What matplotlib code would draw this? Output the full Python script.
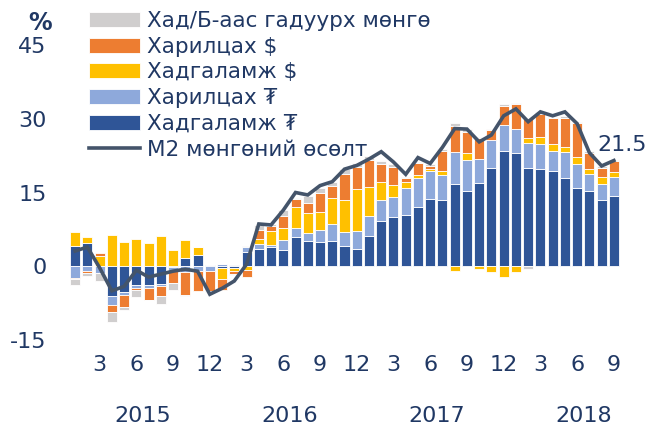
import matplotlib
matplotlib.use("Agg")
import matplotlib.pyplot as plt
import numpy as np

plt.rcParams['font.family'] = ['DejaVu Sans']

months = list(range(1, 13)) * 3 + list(range(1, 10))
years = ['2015', '2016', '2017', '2018']
month_ticks = [3, 6, 9, 12]

# Hadgalamzh ₮ (dark blue)
dep_mnt = [4.1, 4.7, 0.0, -6.1, -5.2, -3.9, -3.9, -3.7, -0.1, 1.6, 2.2, 0.3,
           -0.4, -0.3, 2.9, 3.6, 3.9, 3.3, 5.9, 5.2, 4.9, 5.1, 4.1, 3.6,
           6.2, 9.2, 10.0, 10.45, 12.1, 13.6, 13.4, 16.7, 15.3, 17.0, 19.9, 23.5,
           23.0, 20.0, 19.75, 19.4, 18.05, 15.9, 15.3, 13.5, 14.3]
# Harilcah ₮ (light blue)
cur_mnt = [-2.3, -1.0, -1.3, -1.8, -0.7, -0.55, -0.5, -0.35, -0.9, -1.1, -1.0, -0.9,
           0.4, 0.3, 1.1, 0.9, 0.4, 2.0, 1.85, 1.55, 2.45, 3.5, 2.8, 3.6,
           4.1, 4.35, 4.1, 5.4, 5.8, 5.7, 5.2, 6.6, 6.3, 4.9, 5.8, 5.2,
           4.9, 5.15, 5.1, 4.1, 5.2, 4.9, 3.4, 3.2, 3.9]
# Hadgalamzh $ (yellow)
dep_usd = [2.9, 1.15, 2.1, 6.3, 5.0, 5.6, 4.75, 6.2, 3.4, 3.7, 1.8, 0.0,
           -2.1, -0.75, -0.8, 1.0, 2.85, 2.5, 4.4, 4.1, 3.7, 5.3, 6.6, 8.5,
           5.9, 3.6, 2.4, 1.2, 0.6, 0.5, 0.7, -0.95, 1.5, -0.6, -1.15, -2.1,
           -1.15, 0.9, 1.35, 1.35, 1.1, 1.35, 1.0, 1.55, 0.95]
# Harilcah $ (orange)
cur_usd = [-0.2, -0.3, 0.5, -1.4, -2.3, -0.35, -2.4, -2.1, -2.5, -4.7, -4.1, -4.1,
           -2.25, -0.5, -1.3, 1.8, 1.0, 2.4, 1.5, 2.0, 3.9, 2.45, 5.2, 4.5,
           5.5, 3.7, 3.7, 0.8, 2.4, 0.6, 4.2, 5.3, 4.2, 4.1, 2.0, 3.8,
           5.0, 3.9, 4.75, 5.3, 5.9, 6.9, 3.4, 1.8, 2.25]
# Currency outside banks (gray)
cash = [-1.4, -0.7, -1.6, -2.0, -0.75, -1.55, -0.1, -1.6, -1.3, -0.3, 0.0, -0.3,
        0.0, -0.2, 0.2, 1.0, 0.35, 1.15, 0.3, 1.35, 0.9, 0.75, 1.0, 0.8,
        0.8, 0.55, 0.55, 0.4, 0.4, 0.4, 0.35, 0.55, 0.55, 0.35, 0.3, 0.5,
        0.35, -0.5, 0.4, 0.3, 0.3, 0.2, 0.3, 0.3, 0.2]
# M2 growth
m2 = [3.1, 3.9, -0.3, -5.0, -4.1, -0.8, -2.2, -1.6, -1.0, -0.6, -1.0, -5.7,
      -4.5, -3.0, 0.4, 8.6, 8.4, 11.4, 15.0, 14.5, 16.4, 17.2, 19.75, 20.5,
      21.8, 23.3, 21.2, 18.7, 22.1, 20.9, 24.2, 28.0, 27.9, 25.3, 26.7, 30.6,
      32.0, 29.4, 31.4, 30.6, 31.4, 29.0, 23.1, 20.4, 21.5]

series = [
    (dep_mnt, 'Хадгаламж ₮', '#2F5597'),
    (cur_mnt, 'Харилцах ₮', '#8EA9DB'),
    (dep_usd, 'Хадгаламж $', '#FFC000'),
    (cur_usd, 'Харилцах $', '#ED7D31'),
    (cash, 'Хад/Б-аас гадуурх мөнгө', '#D0CECE'),
]

txt = '#203864'
fig = plt.figure(figsize=(6.51, 4.34), dpi=100)
ax = fig.add_axes([69/651, 1-340/434, (620-69)/651, (340-45)/434])

x = np.arange(len(m2))
pos_base = np.zeros(len(x))
neg_base = np.zeros(len(x))
handles = {}
for vals, label, color in series:
    v = np.array(vals)
    base = np.where(v >= 0, pos_base, neg_base)
    b = ax.bar(x, v, bottom=base, width=0.82, color=color,
               edgecolor='white', linewidth=0.6, label=label)
    handles[label] = b
    pos_base = pos_base + np.where(v >= 0, v, 0)
    neg_base = neg_base + np.where(v < 0, v, 0)

ln, = ax.plot(x, m2, color='#44546A', linewidth=2.6, label='М2 мөнгөний өсөлт',
              solid_joinstyle='miter')

ax.set_xlim(-0.5, len(x) - 0.5)
ax.set_ylim(-15, 45)
ax.set_yticks([-15, 0, 15, 30, 45])
ax.set_yticklabels(['-15', '0', '15', '30', '45'])
for s in ax.spines.values():
    s.set_visible(False)
ax.tick_params(axis='y', length=0, labelsize=16, colors=txt, pad=16)

tick_pos = [i for i, m in enumerate(months) if m in month_ticks]
ax.set_xticks(tick_pos)
ax.set_xticklabels([str(months[i]) for i in tick_pos])
ax.tick_params(axis='x', length=0, labelsize=16, colors=txt, pad=11)

for k, yr in enumerate(years):
    ax.text(k * 12 + 5.5, -30.4, yr, ha='center', va='center', fontsize=16,
            color=txt)

fig.text(622/651, 1-145/434, '21.5', ha='center', va='center', fontsize=16,
         color=txt)

fig.text(40/651, 1-23/434, '%', ha='center', va='center', fontsize=17,
         fontweight='bold', color=txt)

order = ['Хад/Б-аас гадуурх мөнгө', 'Харилцах $', 'Хадгаламж $',
         'Харилцах ₮', 'Хадгаламж ₮']
h = [handles[o] for o in order] + [ln]
l = order + ['М2 мөнгөний өсөлт']
leg = fig.legend(h, l, loc='upper left', bbox_to_anchor=(78/651, 1.0),
                 frameon=False, fontsize=15.5, handlelength=2.4, handleheight=0.7,
                 labelspacing=0.27, handletextpad=0.3, borderpad=0)
for t in leg.get_texts():
    t.set_color(txt)

fig.savefig('out.png', dpi=100)
